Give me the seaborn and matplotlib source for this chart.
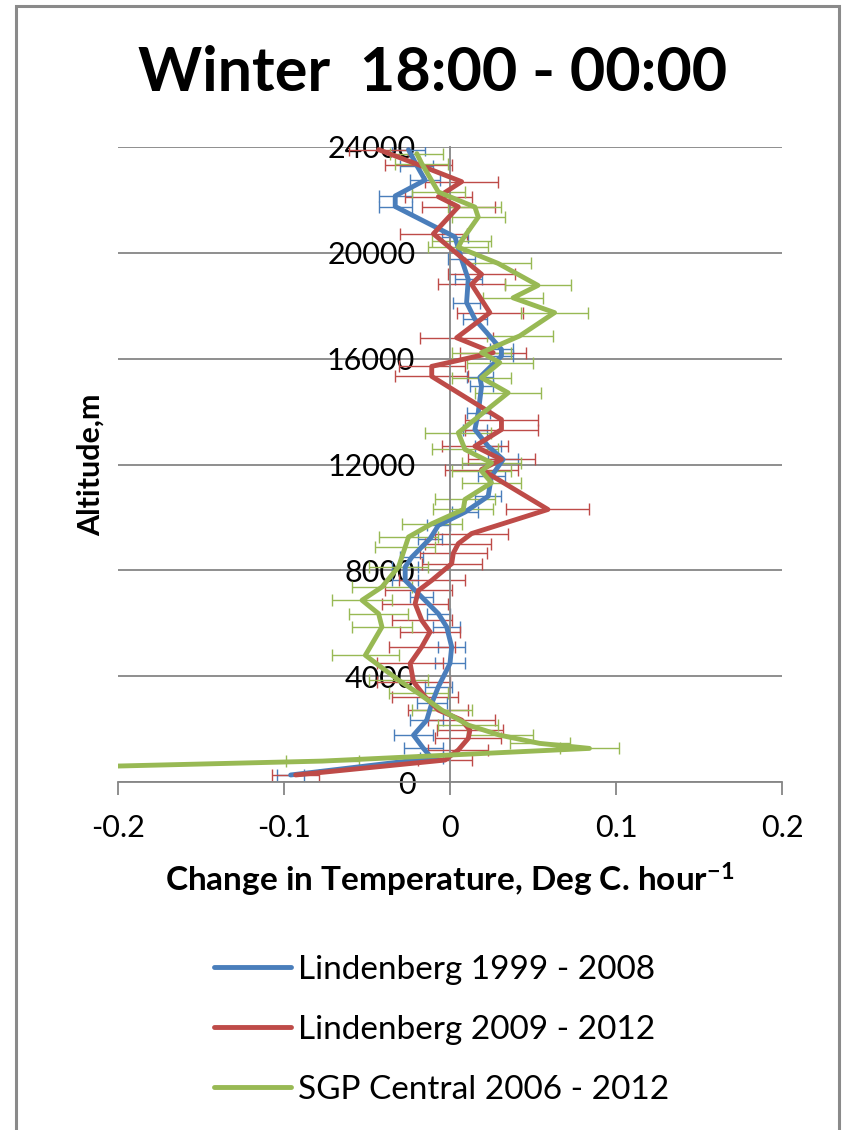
import numpy as np
import pandas as pd
import matplotlib
matplotlib.use("Agg")
import matplotlib.pyplot as plt
import seaborn as sns
from matplotlib.patches import Rectangle

# ---------------- data ----------------
series_names = ["Lindenberg 1999 - 2008", "Lindenberg 2009 - 2012", "SGP Central 2006 - 2012"]
series_colors = ["#4A7EBB", "#BE4B48", "#98B954"]

alt_blue = [265, 900, 1270, 1770, 2340, 2970, 3600, 4480, 5110, 5860, 6360, 6990, 7620, 8130,
            8500, 9200, 9700, 10200, 10800, 11560, 12190, 12690, 13320, 13950, 14960, 15300,
            16100, 16350, 17490, 18120, 19000, 19750, 20600, 21750, 22150, 22750, 23300, 23900]
val_blue = [-0.096, -0.011, -0.016, -0.022, -0.014, -0.011, -0.007, 0.000, 0.001, -0.002, -0.007,
            -0.017, -0.027, -0.027, -0.023, -0.012, -0.007, 0.009, 0.023, 0.025, 0.032, 0.023,
            0.015, 0.017, 0.019, 0.018, 0.031, 0.031, 0.015, 0.010, 0.011, 0.007, 0.003, -0.033,
            -0.033, -0.015, -0.020, -0.025]
err_blue = [0.008, 0.007, 0.012, 0.012, 0.010, 0.009, 0.008, 0.009, 0.008, 0.008, 0.007, 0.007,
            0.008, 0.008, 0.007, 0.007, 0.007, 0.008, 0.008, 0.008, 0.009, 0.008, 0.007, 0.007,
            0.007, 0.008, 0.007, 0.007, 0.007, 0.008, 0.008, 0.008, 0.008, 0.010, 0.010, 0.009,
            0.010, 0.010]

alt_red = [265, 830, 1210, 1650, 1960, 2340, 2720, 3220, 3790, 4480, 5110, 5670, 6110, 6740,
           7240, 7620, 8250, 8650, 9010, 9390, 10300, 11810, 12190, 12690, 13320, 13700, 15330,
           15710, 16230, 16790, 17740, 18810, 19190, 20720, 21740, 22120, 22690, 23330, 23900]
val_red = [-0.093, -0.003, 0.005, 0.011, 0.012, 0.007, -0.007, -0.015, -0.022, -0.024, -0.017,
           -0.012, -0.017, -0.021, -0.019, -0.011, 0.001, 0.002, 0.005, 0.013, 0.059, 0.019,
           0.031, 0.015, 0.031, 0.031, -0.011, -0.011, 0.026, 0.004, 0.024, 0.013, 0.019,
           -0.010, 0.005, -0.007, 0.007, -0.019, -0.043]
err_red = [0.014, 0.016, 0.018, 0.020, 0.020, 0.020, 0.018, 0.020, 0.022, 0.020, 0.020, 0.018,
           0.018, 0.020, 0.020, 0.020, 0.018, 0.020, 0.020, 0.022, 0.025, 0.022, 0.020, 0.020,
           0.022, 0.022, 0.022, 0.020, 0.020, 0.022, 0.020, 0.020, 0.020, 0.020, 0.022, 0.020,
           0.022, 0.020, 0.018]

alt_green = [270, 790, 1270, 1460, 1770, 2150, 2720, 3350, 3850, 4790, 5860, 6360, 6870, 7370,
             8130, 8880, 9260, 9760, 10300, 10680, 11310, 11750, 12060, 12570, 13200, 14710,
             15280, 15850, 16230, 16860, 17740, 18300, 18770, 19600, 20210, 20460, 21350, 21730,
             22300, 23370, 23750]
val_green = [-0.42, -0.077, 0.084, 0.054, 0.030, 0.011, -0.005, -0.019, -0.031, -0.051, -0.041,
             -0.043, -0.053, -0.041, -0.031, -0.027, -0.025, -0.011, 0.008, 0.009, 0.025, 0.019,
             0.025, 0.009, 0.005, 0.035, 0.019, 0.030, 0.019, 0.042, 0.063, 0.038, 0.053, 0.029,
             0.005, 0.007, 0.017, 0.015, -0.007, -0.017, -0.020]
err_green = [0.030, 0.022, 0.018, 0.018, 0.020, 0.018, 0.018, 0.018, 0.018, 0.020, 0.018, 0.018,
             0.018, 0.018, 0.018, 0.018, 0.018, 0.018, 0.018, 0.018, 0.018, 0.018, 0.018, 0.020,
             0.020, 0.020, 0.018, 0.020, 0.018, 0.020, 0.020, 0.018, 0.020, 0.020, 0.018, 0.018,
             0.016, 0.016, 0.016, 0.016, 0.016]

x_ticks = [-0.2, -0.1, 0.0, 0.1, 0.2]
x_tick_labels = ["-0.2", "-0.1", "0", "0.1", "0.2"]
y_ticks = [0, 4000, 8000, 12000, 16000, 20000, 24000]
y_tick_labels = ["0", "4000", "8000", "12000", "16000", "20000", "24000"]

title = "Winter  18:00 - 00:00"
x_label = "Change in Temperature, Deg C. hour$^{-1}$"
y_label = "Altitude,m"

# ---------------- style ----------------
sns.set_style("white")
plt.rcParams["font.family"] = ["Lato", "DejaVu Sans"]
plt.rcParams["mathtext.fontset"] = "custom"
plt.rcParams["mathtext.rm"] = "Lato:bold"
plt.rcParams["mathtext.bf"] = "Lato:bold"
plt.rcParams["mathtext.default"] = "rm"
plt.rcParams["text.color"] = "black"
plt.rcParams["axes.labelcolor"] = "black"

grid_col = "#868686"

fig = plt.figure(figsize=(8.5, 11.3), dpi=100)
ax = fig.add_axes([118 / 850, 1 - 782 / 1130, (782 - 118) / 850, (782 - 147) / 1130])

alts = [alt_blue, alt_red, alt_green]
vals = [val_blue, val_red, val_green]
errs = [err_blue, err_red, err_green]

frames = []
for name, a, v in zip(series_names, alts, vals):
    frames.append(pd.DataFrame({"value": v, "altitude": a, "series": name}))
df = pd.concat(frames, ignore_index=True)
palette = dict(zip(series_names, series_colors))

for a, v, e, c in zip(alts, vals, errs, series_colors):
    ax.errorbar(v, a, xerr=e, fmt="none", ecolor=c, elinewidth=1.0,
                capsize=4.5, capthick=1.0, zorder=2)

sns.lineplot(data=df, x="value", y="altitude", hue="series", hue_order=series_names,
             palette=palette, orient="y", sort=True, estimator=None,
             linewidth=3.5, ax=ax, zorder=3)

ax.set_xlim(-0.2, 0.2)
ax.set_ylim(0, 24000)
ax.set_xticks(x_ticks)
ax.set_xticklabels(x_tick_labels)
ax.set_yticks(y_ticks)
ax.set_yticklabels(y_tick_labels)

ax.set_axisbelow(True)
ax.yaxis.grid(True, color=grid_col, linewidth=1.3)
ax.xaxis.grid(False)

for s in ["top", "right"]:
    ax.spines[s].set_visible(False)
ax.spines["left"].set_position(("data", 0))
ax.spines["left"].set_color(grid_col)
ax.spines["left"].set_linewidth(1.3)
ax.spines["bottom"].set_color(grid_col)
ax.spines["bottom"].set_linewidth(1.3)

ax.tick_params(axis="x", bottom=True, direction="out", length=9, width=1.3,
               color=grid_col, pad=14, labelsize=22, labelcolor="black")
ax.tick_params(axis="y", left=False, length=0, pad=25, labelsize=22, labelcolor="black")

ax.set_xlabel(x_label, fontsize=24, fontweight="bold", color="black")
ax.xaxis.set_label_coords(0.5, -0.125)
ax.set_ylabel(y_label, fontsize=22, fontweight="bold", color="black")
ax.yaxis.set_label_coords(-0.02, 0.5)

fig.text(433 / 850, 1 - 73 / 1130, title, ha="center", va="center",
         fontsize=44, fontweight="bold", color="black")

old = ax.get_legend()
handles = list(old.legend_handles)
labels = [t.get_text() for t in old.get_texts()]
old.remove()
leg = ax.legend(handles, labels, loc="upper left",
                bbox_to_anchor=(214 / 850, 1 - 955 / 1130), bbox_transform=fig.transFigure,
                frameon=False, fontsize=24, handlelength=2.3, handletextpad=0.22,
                labelspacing=0.9, borderpad=0, borderaxespad=0)
for h in leg.legend_handles:
    h.set_linewidth(3.5)
for t in leg.get_texts():
    t.set_color("black")

fig.add_artist(Rectangle((16 / 850, -0.05), (839 - 16) / 850, 1.05 - 6 / 1130,
                         transform=fig.transFigure, fill=False, edgecolor="#8a8a8a",
                         linewidth=2.2))

fig.savefig("out.png", dpi=100)
